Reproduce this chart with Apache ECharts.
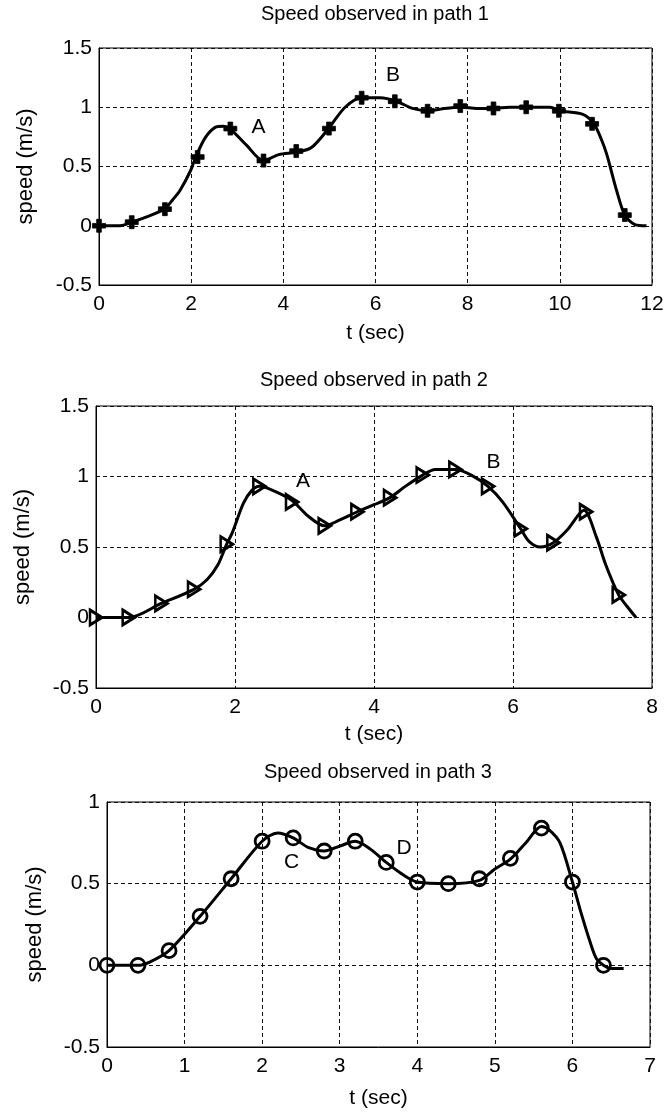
<!DOCTYPE html>
<html><head><meta charset="utf-8">
<script src="https://cdn.jsdelivr.net/npm/echarts/dist/echarts.min.js"></script>
<style>html,body{margin:0;padding:0;background:#fff}#c{width:667px;height:1112px}</style>
</head><body><div id="c"></div>
<script>
// ---------- data ----------
const titles = ['Speed observed in path 1', 'Speed observed in path 2', 'Speed observed in path 3'];
const xMax = [12, 8, 7];
const xInterval = [2, 2, 1];
const yMin = [-0.5, -0.5, -0.5];
const yMax = [1.5, 1.5, 1];

// path 1 (curve + '+' markers)
const path1CurveT = [0,0.46,0.71,1.0,1.41,1.6,1.76,1.98,2.1,2.3,2.52,2.7,2.84,3.2,3.57,3.9,4.29,4.61,4.98,5.34,5.7,6.1,6.46,6.8,7.15,7.5,7.86,8.2,8.56,8.9,9.27,9.79,10.0,10.5,10.74,10.9,11.02,11.23,11.41,11.63,11.88];
const path1CurveV = [0,0,0.03,0.07,0.14,0.22,0.30,0.46,0.58,0.74,0.83,0.84,0.82,0.68,0.55,0.60,0.62,0.66,0.82,1.0,1.08,1.08,1.05,0.99,0.97,0.99,1.0,0.99,0.99,1.0,1.0,1.0,0.97,0.94,0.86,0.73,0.60,0.30,0.09,0.01,0];
const path1MarkT = [0,0.71,1.43,2.14,2.85,3.57,4.28,4.99,5.7,6.42,7.13,7.84,8.56,9.27,9.98,10.7,11.41];
const path1MarkV = [0,0.03,0.14,0.58,0.82,0.55,0.63,0.82,1.08,1.05,0.97,1.01,0.99,1.0,0.97,0.86,0.09];
const path1LabelT = [3.46, 6.38];
const path1LabelV = [0.83, 1.27];
const path1LabelText = ['A', 'B'];

// path 2 (curve + '>' markers)
const path2CurveT = [0,0.47,0.94,1.41,1.6,1.75,1.88,1.96,2.12,2.24,2.35,2.55,2.82,3.05,3.29,3.5,3.76,4.0,4.23,4.45,4.7,4.88,5.17,5.4,5.64,5.85,6.11,6.23,6.39,6.58,6.78,7.02,7.2,7.33,7.52,7.64,7.77];
const path2CurveV = [0,0,0.10,0.20,0.27,0.37,0.52,0.60,0.81,0.90,0.93,0.90,0.83,0.72,0.65,0.69,0.75,0.80,0.85,0.93,1.01,1.05,1.05,1.01,0.93,0.82,0.63,0.54,0.50,0.53,0.62,0.76,0.57,0.38,0.16,0.08,0];
const path2MarkT = [0,0.47,0.94,1.41,1.88,2.35,2.82,3.29,3.76,4.23,4.7,5.17,5.64,6.11,6.58,7.05,7.52];
const path2MarkV = [0,0,0.10,0.20,0.52,0.93,0.82,0.65,0.75,0.85,1.01,1.05,0.93,0.63,0.53,0.75,0.16];
const path2LabelT = [2.98, 5.72];
const path2LabelV = [0.97, 1.10];
const path2LabelText = ['A', 'B'];

// path 3 (curve + 'o' markers)
const path3CurveT = [0,0.4,0.55,0.8,1.2,1.6,2.0,2.2,2.4,2.6,2.8,3.0,3.2,3.4,3.6,3.8,4.0,4.4,4.8,5.0,5.2,5.4,5.6,5.7,5.84,6.0,6.1,6.23,6.31,6.4,6.5,6.66];
const path3CurveV = [0,0,0.02,0.09,0.30,0.53,0.76,0.81,0.78,0.72,0.70,0.73,0.76,0.71,0.63,0.56,0.51,0.50,0.52,0.59,0.65,0.75,0.85,0.83,0.75,0.51,0.34,0.14,0.04,0,-0.02,-0.02];
const path3MarkT = [0,0.4,0.8,1.2,1.6,2.0,2.4,2.8,3.2,3.6,4.0,4.4,4.8,5.2,5.6,6.0,6.4];
const path3MarkV = [0,0,0.09,0.30,0.53,0.76,0.78,0.70,0.76,0.63,0.51,0.50,0.53,0.655,0.84,0.51,0];
const path3LabelT = [2.38, 3.83];
const path3LabelV = [0.63, 0.72];
const path3LabelText = ['C', 'D'];

// ---------- build ----------
const FONT = "'Liberation Sans', Arial, sans-serif";
const zip = (a, b) => a.map((x, i) => [x, b[i]]);
const curves = [[path1CurveT, path1CurveV], [path2CurveT, path2CurveV], [path3CurveT, path3CurveV]];
const marks = [[path1MarkT, path1MarkV], [path2MarkT, path2MarkV], [path3MarkT, path3MarkV]];
const labels = [[path1LabelT, path1LabelV, path1LabelText], [path2LabelT, path2LabelV, path2LabelText], [path3LabelT, path3LabelV, path3LabelText]];

const gridPos = [
  {left: 99, right: 15, top: 48, height: 237},
  {left: 96, right: 15, top: 406, height: 282},
  {left: 107, right: 17, top: 802, height: 245}
];
const titleTop = [4, 370, 762];
const titleX = [375, 374, 378];
const xNameGap = [38, 36, 41];
const yNameGap = [62, 62, 61];

const markerStyles = [
  {symbol: 'path://M3.2,0H6.8V3.2H10V6.8H6.8V10H3.2V6.8H0V3.2H3.2Z', symbolSize: 13, itemStyle: {color: '#000', opacity: 1, borderColor: '#000', borderWidth: 0.8}},
  {symbol: 'path://M0,0L10,6L0,12Z', symbolSize: [12, 15], itemStyle: {color: 'rgba(0,0,0,0)', opacity: 1, borderColor: '#000', borderWidth: 2.8}},
  {symbol: 'circle', symbolSize: 14, itemStyle: {color: 'rgba(0,0,0,0)', opacity: 1, borderColor: '#000', borderWidth: 2.8}}
];

const option = {
  backgroundColor: '#fff',
  animation: false,
  title: titles.map((t, i) => ({
    text: t, left: titleX[i], top: titleTop[i], textAlign: 'center', padding: 0,
    textStyle: {fontFamily: FONT, fontSize: 20, fontWeight: 'normal', color: '#000'}
  })),
  grid: gridPos.map(g => Object.assign({show: true, borderColor: '#000', borderWidth: 1, backgroundColor: '#fff'}, g)),
  xAxis: xMax.map((m, i) => ({
    gridIndex: i, type: 'value', min: 0, max: m, interval: xInterval[i],
    name: 't (sec)', nameLocation: 'middle', nameGap: xNameGap[i],
    nameTextStyle: {fontFamily: FONT, fontSize: 21, color: '#000'},
    axisLine: {show: true, onZero: false, lineStyle: {color: '#000', width: 1}},
    axisTick: {show: false},
    axisLabel: {color: '#000', fontFamily: FONT, fontSize: 21, margin: 9},
    splitLine: {show: true, lineStyle: {color: '#111', width: 1, type: [4, 3]}}
  })),
  yAxis: yMax.map((m, i) => ({
    gridIndex: i, type: 'value', min: yMin[i], max: m, interval: 0.5,
    name: 'speed (m/s)', nameLocation: 'middle', nameGap: yNameGap[i],
    nameTextStyle: {fontFamily: FONT, fontSize: 22, color: '#000'},
    axisLine: {show: true, onZero: false, lineStyle: {color: '#000', width: 1}},
    axisTick: {show: false},
    axisLabel: {color: '#000', fontFamily: FONT, fontSize: 21, margin: 7},
    splitLine: {show: true, lineStyle: {color: '#111', width: 1, type: [4, 3]}}
  })),
  series: []
};

for (let i = 0; i < 3; i++) {
  option.series.push({
    type: 'line', xAxisIndex: i, yAxisIndex: i,
    data: zip(curves[i][0], curves[i][1]),
    smooth: 0.3, showSymbol: false, symbol: 'none',
    lineStyle: {color: '#000', width: 3}, z: 3
  });
  option.series.push(Object.assign({
    type: 'scatter', xAxisIndex: i, yAxisIndex: i,
    data: zip(marks[i][0], marks[i][1]), z: 4
  }, markerStyles[i]));
  option.series.push({
    type: 'scatter', xAxisIndex: i, yAxisIndex: i,
    symbol: 'circle', symbolSize: 1, itemStyle: {color: 'rgba(0,0,0,0)', opacity: 1},
    data: labels[i][0].map((t, k) => ({value: [t, labels[i][1][k]], name: labels[i][2][k]})),
    label: {show: true, position: 'inside', formatter: '{b}', fontFamily: FONT, fontSize: 21, color: '#000', opacity: 1},
    z: 5
  });
}

const chart = echarts.init(document.getElementById('c'), null, {renderer: 'canvas'});
chart.setOption(option);
</script>
</body></html>
